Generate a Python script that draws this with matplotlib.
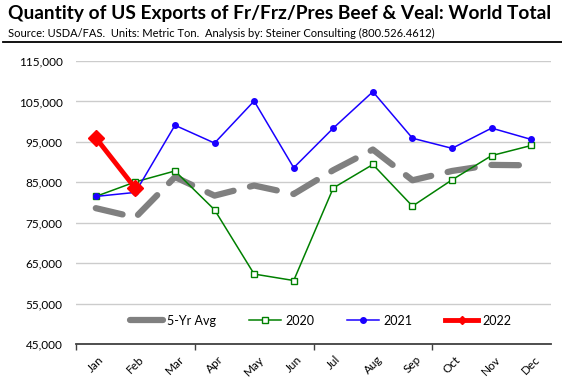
import matplotlib
matplotlib.use("Agg")
import matplotlib.pyplot as plt
import matplotlib.ticker as mticker
from matplotlib.lines import Line2D

months = ["Jan", "Feb", "Mar", "Apr", "May", "Jun",
          "Jul", "Aug", "Sep", "Oct", "Nov", "Dec"]
avg_5yr = [78600, 76300, 86300, 81700, 84200, 82100,
           88000, 93100, 85500, 87800, 89300, 89200]
exp_2020 = [81500, 85100, 87800, 78200, 62300, 60700,
            83600, 89400, 79100, 85600, 91600, 94100]
exp_2021 = [81500, 82500, 99100, 94700, 105100, 88600,
            98400, 107400, 95900, 93400, 98400, 95600]
exp_2022 = [96000, 83500]
y_ticks = [45000, 55000, 65000, 75000, 85000, 95000, 105000, 115000]

plt.rcParams["font.family"] = ["Lato", "DejaVu Sans"]

fig = plt.figure(figsize=(5.62, 3.81), dpi=100)
fig.patch.set_facecolor("white")
ax = fig.add_axes([76 / 562, 1 - 344 / 381, 475 / 562, 283 / 381])

x = list(range(len(months)))

ax.plot(x, avg_5yr, color="#808080", linewidth=4.5, dashes=(4.4, 2.7),
        solid_capstyle="round", dash_capstyle="round", zorder=2, label="5-Yr Avg")
ax.plot(x, exp_2020, color="#008000", linewidth=1.1, marker="s", markersize=4,
        markerfacecolor="white", markeredgecolor="#008000", markeredgewidth=1,
        zorder=3, label="2020")
ax.plot(x, exp_2021, color="#1a00ff", linewidth=1.1, marker="o", markersize=4,
        markerfacecolor="#1a00ff", markeredgecolor="#1a00ff", zorder=4, label="2021")
ax.plot(x[:len(exp_2022)], exp_2022, color="#ff0000", linewidth=3.5, marker="D",
        markersize=8, zorder=5, label="2022")

ax.set_xlim(-0.5, len(months) - 0.5)
ax.set_ylim(45000, 115000)
ax.set_yticks(y_ticks)
ax.yaxis.set_major_formatter(mticker.StrMethodFormatter("{x:,.0f}"))
ax.grid(axis="y", color="#cccccc", linewidth=1)
ax.set_axisbelow(True)

for side in ["top", "right", "left"]:
    ax.spines[side].set_visible(False)
ax.spines["bottom"].set_color("#404040")
ax.spines["bottom"].set_linewidth(1.3)

ax.set_xticks([-0.5, 2.5, 5.5, 8.5])
ax.set_xticklabels([])
ax.set_xticks(x, minor=True)
ax.set_xticklabels(months, minor=True, rotation=45, fontsize=8.5,
                   ha="center", va="top")
ax.tick_params(axis="x", which="major", length=4, width=1, color="#404040")
ax.tick_params(axis="x", which="minor", length=0, pad=7)
ax.tick_params(axis="y", length=0, labelsize=8.5, pad=9.5)

handles = [
    Line2D([], [], color="#808080", linewidth=4.5, solid_capstyle="round"),
    Line2D([], [], color="#008000", linewidth=1.1, marker="s", markersize=4,
           markerfacecolor="white"),
    Line2D([], [], color="#1a00ff", linewidth=1.1, marker="o", markersize=4),
    Line2D([], [], color="#ff0000", linewidth=3.5, marker="D", markersize=4),
]
ax.legend(handles, ["5-Yr Avg", "2020", "2021", "2022"], loc="center",
          bbox_to_anchor=(0.515, 0.083), ncol=4, frameon=False, fontsize=9,
          handlelength=2.6, columnspacing=2.6, handletextpad=0.35)

fig.text(8 / 562, 1 - 14 / 381, "Quantity of US Exports of Fr/Frz/Pres Beef & Veal: World Total",
         fontsize=13.8, fontweight="bold", ha="left", va="center")
fig.text(8 / 562, 1 - 33 / 381,
         "Source: USDA/FAS.  Units: Metric Ton.  Analysis by: Steiner Consulting (800.526.4612)",
         fontsize=8, ha="left", va="center")
fig.add_artist(Line2D([3 / 562, 1], [1 - 42 / 381, 1 - 42 / 381],
                      color="black", linewidth=1.3))

fig.savefig("out.png", dpi=100, facecolor="white")
